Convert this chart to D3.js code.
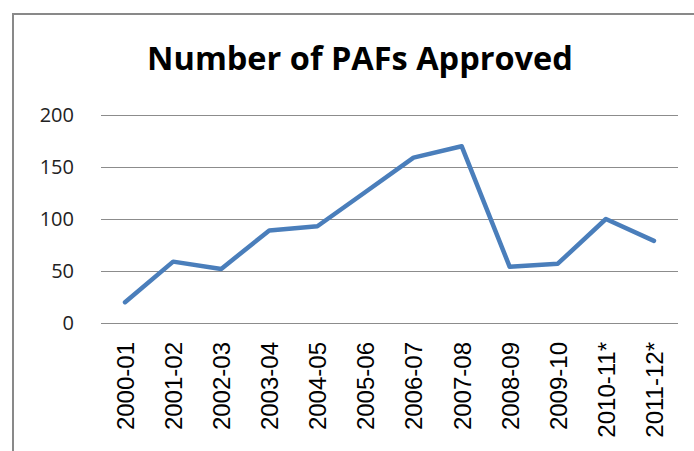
<!DOCTYPE html>
<html>
<head>
<meta charset="utf-8">
<script src="https://cdn.jsdelivr.net/npm/d3@7"></script>
<style>
	body { margin: 0; background: white; }
</style>
</head>
<body>
<div id="container"></div>
<script>
const title = 'Number of PAFs Approved';
const years = ['2000-01', '2001-02', '2002-03', '2003-04', '2004-05', '2005-06',
	'2006-07', '2007-08', '2008-09', '2009-10', '2010-11*', '2011-12*'];
const approved = [20, 59, 52, 89, 93, 126, 159, 170, 54, 57, 100, 79];
const yTicks = [0, 50, 100, 150, 200];

const W = 694, H = 451;
const LEFT = 101, RIGHT = 678, TOP = 115, BOTTOM = 323;

const svg = d3.select('#container').append('svg')
	.attr('width', W)
	.attr('height', H);

// chart frame, runs off the right and bottom edges
svg.append('rect')
	.attr('x', 13).attr('y', 14)
	.attr('width', W).attr('height', H)
	.attr('fill', 'white')
	.attr('stroke', '#898989')
	.attr('stroke-width', 2);

svg.append('text')
	.attr('x', 360).attr('y', 70)
	.attr('text-anchor', 'middle')
	.style('font-family', 'Open Sans')
	.style('font-weight', 'bold')
	.style('font-size', '32.5px')
	.text(title);

const x = d3.scalePoint()
	.domain(years)
	.range([LEFT, RIGHT])
	.padding(0.5);

const y = d3.scaleLinear()
	.domain([0, 200])
	.range([BOTTOM, TOP]);

const yAxis = svg.append('g')
	.attr('transform', `translate(${LEFT},0)`)
	.call(d3.axisLeft(y).tickValues(yTicks).tickSize(-(RIGHT - LEFT)).tickPadding(27));
yAxis.select('.domain').remove();
yAxis.selectAll('line')
	.attr('stroke', '#8c8c8c')
	.attr('stroke-width', 1.2);
yAxis.selectAll('text')
	.attr('fill', '#222')
	.style('font-family', 'Open Sans')
	.style('font-size', '20px');

const xAxis = svg.append('g')
	.attr('transform', `translate(0,${BOTTOM})`)
	.call(d3.axisBottom(x).tickSize(0));
xAxis.select('.domain').remove();
xAxis.selectAll('text')
	.attr('transform', 'translate(0,19) rotate(-90)')
	.attr('x', 0).attr('y', 0)
	.attr('dy', '0.35em')
	.attr('text-anchor', 'end')
	.attr('fill', '#000')
	.style('font-family', 'Liberation Sans')
	.style('font-size', '24px');

const line = d3.line()
	.x((d, i) => x(years[i]))
	.y(d => y(d));

svg.append('path')
	.datum(approved)
	.attr('d', line)
	.attr('fill', 'none')
	.attr('stroke', '#4a7ebb')
	.attr('stroke-width', 4.5)
	.attr('stroke-linejoin', 'round')
	.attr('stroke-linecap', 'round');
</script>
</body>
</html>
